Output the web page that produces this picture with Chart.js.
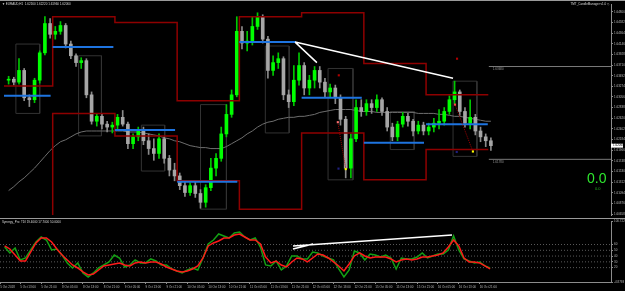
<!DOCTYPE html>
<html>
<head>
<meta charset="utf-8">
<script src="https://cdn.jsdelivr.net/npm/chart.js@4.4.0/dist/chart.umd.min.js"></script>
<style>
  html, body { margin: 0; padding: 0; background: #000; }
  body { width: 625px; height: 291px; position: relative; overflow: hidden; }
  canvas { position: absolute; left: 0; display: block; }
  #main { top: 0; }
  #sub { top: 219px; }
</style>
</head>
<body>
<canvas id="main" width="625" height="219"></canvas>
<canvas id="sub" width="625" height="72"></canvas>
<script>
// EURAUD bars, 5 Oct - 16 Oct 2018 (x = bar number)
const openP = [
  1.6340, 1.6342, 1.6336, 1.6360, 1.6304, 1.6300, 1.6340, 1.6396, 1.6456, 1.6434,
  1.6440, 1.6452, 1.6414, 1.6390, 1.6376, 1.6380, 1.6310, 1.6256, 1.6266, 1.6250,
  1.6244, 1.6248, 1.6264, 1.6250, 1.6210, 1.6224, 1.6236, 1.6216, 1.6200, 1.6190,
  1.6220, 1.6180, 1.6156, 1.6144, 1.6124, 1.6110, 1.6124, 1.6108, 1.6090, 1.6120,
  1.6160, 1.6180, 1.6230, 1.6270, 1.6310, 1.6440, 1.6416, 1.6420, 1.6450, 1.6470,
  1.6424, 1.6360, 1.6376, 1.6384, 1.6310, 1.6296, 1.6340, 1.6370, 1.6324, 1.6340,
  1.6360, 1.6336, 1.6316, 1.6324, 1.6304, 1.6260, 1.6160, 1.6220, 1.6284, 1.6276,
  1.6292, 1.6284, 1.6300, 1.6276, 1.6244, 1.6224, 1.6250, 1.6266, 1.6256, 1.6236,
  1.6248, 1.6236, 1.6244, 1.6252, 1.6256, 1.6276, 1.6300, 1.6316, 1.6276, 1.6252,
  1.6264, 1.6236, 1.6224, 1.6216
];
const highP = [
  1.6348, 1.6346, 1.6384, 1.6364, 1.6310, 1.6344, 1.6400, 1.6470, 1.6466, 1.6450,
  1.6460, 1.6456, 1.6420, 1.6394, 1.6386, 1.6384, 1.6316, 1.6272, 1.6270, 1.6256,
  1.6254, 1.6270, 1.6278, 1.6254, 1.6230, 1.6244, 1.6244, 1.6230, 1.6220, 1.6230,
  1.6224, 1.6186, 1.6170, 1.6150, 1.6134, 1.6130, 1.6132, 1.6116, 1.6126, 1.6180,
  1.6190, 1.6244, 1.6290, 1.6320, 1.6470, 1.6450, 1.6440, 1.6470, 1.6478, 1.6474,
  1.6430, 1.6390, 1.6396, 1.6388, 1.6320, 1.6370, 1.6396, 1.6376, 1.6350, 1.6368,
  1.6368, 1.6344, 1.6332, 1.6330, 1.6310, 1.6266, 1.6230, 1.6300, 1.6300, 1.6300,
  1.6300, 1.6310, 1.6304, 1.6284, 1.6252, 1.6256, 1.6274, 1.6272, 1.6260, 1.6256,
  1.6254, 1.6252, 1.6262, 1.6280, 1.6284, 1.6308, 1.6338, 1.6320, 1.6284, 1.6300,
  1.6270, 1.6244, 1.6230, 1.6222
];
const lowP = [
  1.6332, 1.6330, 1.6332, 1.6298, 1.6286, 1.6294, 1.6334, 1.6392, 1.6426, 1.6424,
  1.6434, 1.6406, 1.6384, 1.6368, 1.6364, 1.6304, 1.6250, 1.6246, 1.6240, 1.6234,
  1.6232, 1.6240, 1.6246, 1.6200, 1.6200, 1.6216, 1.6208, 1.6188, 1.6176, 1.6180,
  1.6170, 1.6144, 1.6134, 1.6116, 1.6102, 1.6104, 1.6100, 1.6078, 1.6080, 1.6114,
  1.6144, 1.6174, 1.6224, 1.6264, 1.6306, 1.6404, 1.6400, 1.6412, 1.6444, 1.6416,
  1.6344, 1.6350, 1.6364, 1.6300, 1.6284, 1.6288, 1.6330, 1.6310, 1.6310, 1.6324,
  1.6324, 1.6306, 1.6304, 1.6292, 1.6248, 1.6140, 1.6140, 1.6214, 1.6266, 1.6268,
  1.6272, 1.6276, 1.6268, 1.6236, 1.6216, 1.6216, 1.6244, 1.6246, 1.6226, 1.6230,
  1.6228, 1.6228, 1.6234, 1.6240, 1.6248, 1.6270, 1.6292, 1.6268, 1.6244, 1.6240,
  1.6228, 1.6214, 1.6204, 1.6196
];
const closeP = [
  1.6342, 1.6336, 1.6360, 1.6304, 1.6300, 1.6340, 1.6396, 1.6456, 1.6434, 1.6440,
  1.6452, 1.6414, 1.6390, 1.6376, 1.6380, 1.6310, 1.6256, 1.6266, 1.6250, 1.6244,
  1.6248, 1.6264, 1.6250, 1.6210, 1.6224, 1.6236, 1.6216, 1.6200, 1.6190, 1.6220,
  1.6180, 1.6156, 1.6144, 1.6124, 1.6110, 1.6124, 1.6108, 1.6090, 1.6120, 1.6160,
  1.6180, 1.6230, 1.6270, 1.6310, 1.6440, 1.6416, 1.6420, 1.6450, 1.6470, 1.6424,
  1.6360, 1.6376, 1.6384, 1.6310, 1.6296, 1.6340, 1.6370, 1.6324, 1.6340, 1.6360,
  1.6336, 1.6316, 1.6324, 1.6304, 1.6260, 1.6160, 1.6220, 1.6284, 1.6276, 1.6292,
  1.6284, 1.6300, 1.6276, 1.6244, 1.6224, 1.6250, 1.6266, 1.6256, 1.6236, 1.6248,
  1.6236, 1.6244, 1.6252, 1.6256, 1.6276, 1.6300, 1.6316, 1.6276, 1.6252, 1.6264,
  1.6236, 1.6224, 1.6216, 1.6206
];
const maLine = [
  1.6114, 1.6122, 1.6132, 1.6140, 1.6150, 1.6160, 1.6172, 1.6184, 1.6196, 1.6206,
  1.6214, 1.6218, 1.6224, 1.6230, 1.6234, 1.6236, 1.6236, 1.6236, 1.6236, 1.6236,
  1.6236, 1.6236, 1.6236, 1.6234, 1.6234, 1.6234, 1.6232, 1.6230, 1.6228, 1.6226,
  1.6222, 1.6220, 1.6216, 1.6214, 1.6210, 1.6206, 1.6204, 1.6202, 1.6202, 1.6200,
  1.6200, 1.6200, 1.6204, 1.6210, 1.6216, 1.6222, 1.6230, 1.6236, 1.6244, 1.6250,
  1.6254, 1.6256, 1.6260, 1.6262, 1.6264, 1.6264, 1.6266, 1.6266, 1.6268, 1.6270,
  1.6274, 1.6276, 1.6278, 1.6280, 1.6280, 1.6280, 1.6280, 1.6278, 1.6276, 1.6276,
  1.6276, 1.6274, 1.6274, 1.6274, 1.6274, 1.6274, 1.6274, 1.6274, 1.6274, 1.6272,
  1.6272, 1.6272, 1.6272, 1.6270, 1.6270, 1.6268, 1.6266, 1.6266, 1.6264, 1.6262,
  1.6260, 1.6258, 1.6256, 1.6256
];

// daily levels
const dayStart = [-0.9, 8.5, 20.5, 32.5, 44.5, 56.5, 68.5, 80.5, 92.5];
const dayHigh = [1.6328, 1.6470, 1.6458, 1.6298, 1.6470, 1.6478, 1.6374, 1.6310];
const dayLow = [1.6000, 1.6272, 1.6226, 1.6134, 1.6076, 1.6232, 1.6136, 1.6198];
const dayOpen = [1.6308, 1.6408, 1.6238, 1.6132, 1.6418, 1.6304, 1.6212, 1.6250];
const dayOpenEnd = [8.1, 20.2, 32.1, 44.1, 55.4, 68.1, 80.1, 92.4];

// session boxes
const boxFrom = [1.4, 13.5, 25.6, 37.0, 49.5, 61.6, 73.6, 85.7];
const boxTo = [6.0, 17.9, 30.1, 42.0, 54.1, 66.4, 78.2, 90.3];
const boxHigh = [1.6414, 1.6390, 1.6248, 1.6290, 1.6410, 1.6364, 1.6276, 1.6338];
const boxLow = [1.6272, 1.6226, 1.6154, 1.6076, 1.6232, 1.6136, 1.6198, 1.6184];

// trend lines on price
const trendFrom = [55.24, 55.24];
const trendTo = [85.70, 59.45];
const trendFromP = [1.6418, 1.6418];
const trendToP = [1.6344, 1.6376];

// signal marks
const markX = [63.48, 65.01, 63.67, 63.61, 86.08, 89.53, 86.47, 86.41];
const markP = [1.6254, 1.6158, 1.6350, 1.6159, 1.6290, 1.6194, 1.6384, 1.6193];

// horizontal price lines at the right
const hLineFrom = 92.6;
const hLineP = [1.6368, 1.6178];

const priceTicks = [
  1.64800, 1.64582, 1.64364, 1.64146, 1.63928, 1.63710, 1.63492, 1.63274, 1.63056, 1.62838,
  1.62620, 1.62402, 1.62184, 1.61966, 1.61748, 1.61530, 1.61312, 1.61094, 1.60876, 1.60658
];

// TDI
const tdiGreen = [
  55.7, 45.4, 54.0, 33.3, 36.7, 50.6, 64.4, 73.0, 67.8, 50.6,
  52.3, 41.9, 28.1, 19.4, 28.1, 10.8, 3.8, 10.8, 19.4, 24.6,
  29.8, 41.9, 36.7, 21.1, 24.6, 33.3, 28.1, 28.1, 35.0, 31.5,
  24.6, 24.6, 17.7, 14.2, 10.8, 15.9, 19.4, 15.9, 36.7, 60.9,
  67.8, 78.2, 74.8, 71.3, 80.0, 81.7, 73.0, 67.8, 71.3, 55.7,
  24.6, 22.9, 31.5, 15.9, 22.9, 40.2, 40.2, 35.0, 35.0, 47.1,
  45.4, 40.2, 36.7, 33.3, 17.7, 3.8, 15.9, 48.8, 45.4, 33.3,
  43.6, 41.9, 38.4, 41.9, 36.7, 17.7, 36.7, 35.0, 35.0, 38.4,
  45.4, 36.7, 40.2, 43.6, 43.6, 50.6, 74.8, 50.6, 35.0, 31.5,
  28.1, 29.8, 22.9, 19.4
];
const tdiRed = [
  57.5, 52.3, 41.9, 31.5, 31.5, 47.1, 62.7, 71.3, 71.3, 64.4,
  52.3, 41.9, 33.3, 24.6, 19.4, 12.5, 7.3, 9.0, 15.9, 22.9,
  24.6, 26.3, 28.1, 24.6, 22.9, 28.1, 29.8, 28.1, 29.8, 29.8,
  26.3, 21.1, 17.7, 14.2, 12.5, 14.2, 17.7, 22.9, 36.7, 57.5,
  62.7, 66.1, 71.3, 71.3, 76.5, 78.2, 73.0, 67.8, 67.8, 60.9,
  38.4, 28.1, 31.5, 24.6, 21.1, 29.8, 36.7, 35.0, 29.8, 36.7,
  43.6, 41.9, 36.7, 29.8, 22.9, 14.2, 26.3, 40.2, 45.4, 40.2,
  36.7, 38.4, 38.4, 38.4, 35.0, 29.8, 33.3, 35.0, 33.3, 35.0,
  38.4, 38.4, 40.2, 41.9, 45.4, 55.7, 67.8, 57.5, 36.7, 29.8,
  29.8, 28.1, 22.9, 17.7
];
const tdiLevels = [60, 50, 40, 30, 20];
const tdiTicks = [100.7226, 60, 50, 40, 30, 20, -4.8793];
const tdiTrendFromV = [57.5, 52.3];
const tdiTrendToV = [76.5, 60.9];
const tdiTrendTo = [85.70, 59.07];

const timeTicks = [-0.85, 3, 7, 11, 15, 19, 23, 27, 31, 35, 39, 43, 47, 51, 55, 59, 63, 67, 71, 75, 79, 83, 87, 91];
const timeLabels = [
  '5 Oct 2018', '5 Oct 13:00', '5 Oct 21:00', '8 Oct 05:00', '8 Oct 13:00', '8 Oct 21:00',
  '9 Oct 05:00', '9 Oct 13:00', '9 Oct 21:00', '10 Oct 05:00', '10 Oct 13:00', '10 Oct 21:00',
  '11 Oct 05:00', '11 Oct 13:00', '11 Oct 21:00', '12 Oct 05:00', '12 Oct 13:00', '12 Oct 21:00',
  '15 Oct 05:00', '15 Oct 13:00', '15 Oct 21:00', '16 Oct 05:00', '16 Oct 13:00', '16 Oct 21:00'
];

const xMin = -0.89, xMax = 116.16;
const FONT = 'Liberation Sans';
const AXIS = '#8c8c8c';
const TXT = '#b8b8b8';

const upCol = '#00ff00', dnCol = '#a6a6a6';
const isUp = closeP.map((c, i) => c > openP[i]);

function withBreaks(list) {
  let pts = [];
  list.forEach(seg => { pts = pts.concat(seg); pts.push({x: seg[seg.length - 1].x, y: null}); });
  return pts;
}

const stepData = levels => {
  let pts = levels.map((v, k) => ({x: dayStart[k], y: v}));
  pts.push({x: dayStart[levels.length], y: levels[levels.length - 1]});
  return pts;
};

const lineDs = (data, color, width, order, extra) => Object.assign({
  type: 'line', data, borderColor: color, borderWidth: width, pointRadius: 0,
  tension: 0, order, spanGaps: false
}, extra || {});

const mainDeco = {
  id: 'mainDeco',
  afterDraw(chart) {
    const {ctx, chartArea, scales: {x, y}} = chart;
    ctx.save();
    ctx.fillStyle = '#9a9a9a';
    ctx.fillRect(0, 0, 625, 1);
    ctx.fillRect(0, 218, 625, 1);

    const n = closeP.length - 1;
    ctx.font = `3px "${FONT}"`;
    ctx.textBaseline = 'middle';
    ctx.fillStyle = '#d8d8d8';
    ctx.fillText('\u25BC EURAUD,H1  ' + [openP[n], highP[n], lowP[n], closeP[n]].map(v => v.toFixed(5)).join(' '), 2, 4);
    ctx.textAlign = 'right';
    ctx.fillText('TMT_CandleManager v1.0 \u25C7', chartArea.right - 2, 4);
    ctx.textAlign = 'left';

    ctx.fillStyle = '#9a9a9a';
    hLineP.forEach(p => ctx.fillText(p.toFixed(5), x.getPixelForValue(hLineFrom) + 4, y.getPixelForValue(p) + 3));

    const cy = y.getPixelForValue(closeP[n]);
    ctx.fillStyle = '#ffffff';
    ctx.fillRect(chartArea.right, cy - 2, 12, 4);
    ctx.fillStyle = '#000000';
    ctx.fillText(closeP[n].toFixed(5), chartArea.right + 2, cy);

    ctx.textBaseline = 'alphabetic';
    ctx.font = `14px "${FONT}"`;
    ctx.fillStyle = '#2ee62e';
    ctx.fillText('0.0', 587, 183);
    ctx.font = `4px "${FONT}"`;
    ctx.fillStyle = '#22a822';
    ctx.fillText('0.0', 595, 190);
    ctx.restore();
  }
};

const subDeco = {
  id: 'subDeco',
  afterDraw(chart) {
    const {ctx} = chart;
    const n = tdiGreen.length - 1;
    ctx.save();
    ctx.font = `3px "${FONT}"`;
    ctx.textBaseline = 'middle';
    ctx.fillStyle = '#d8d8d8';
    ctx.fillText('Synergy_Pro_TDI ' + tdiGreen[n].toFixed(4) + ' ' + tdiRed[n].toFixed(4) + ' 50.0000', 2, 3);
    ctx.restore();
  }
};

const fixedRight = s => { s.width = 14; s.paddingTop = 0; s.paddingBottom = 0; };

new Chart(document.getElementById('main'), {
  type: 'bar',
  data: {
    datasets: [
      {
        type: 'bar', order: 6, grouped: false, barThickness: 1, minBarLength: 1,
        data: closeP.map((c, i) => ({x: i, y: [lowP[i], highP[i]]})),
        backgroundColor: isUp.map(u => u ? '#00c800' : '#8a8a8a')
      },
      {
        type: 'bar', order: 5, grouped: false, barThickness: 3, minBarLength: 1,
        data: closeP.map((c, i) => ({x: i, y: [openP[i], c]})),
        backgroundColor: isUp.map(u => u ? upCol : dnCol)
      },
      lineDs(maLine.map((v, i) => ({x: i, y: v})), '#6e6e6e', 1, 9),
      lineDs(withBreaks(boxFrom.map((f, k) => [
        {x: f, y: boxHigh[k]}, {x: boxTo[k], y: boxHigh[k]}, {x: boxTo[k], y: boxLow[k]},
        {x: f, y: boxLow[k]}, {x: f, y: boxHigh[k]}
      ])), '#333333', 1, 10),
      lineDs(withBreaks(hLineP.map(p => [{x: hLineFrom, y: p}, {x: xMax, y: p}])), '#7a7a7a', 1, 9),
      lineDs(stepData(dayHigh), '#8e0000', 1.5, 4, {stepped: true}),
      lineDs(stepData(dayLow), '#8e0000', 1.5, 4, {stepped: true}),
      lineDs(withBreaks(dayOpen.map((p, k) => [{x: dayStart[k], y: p}, {x: dayOpenEnd[k], y: p}])), '#1e74e0', 2, 3),
      lineDs(withBreaks([[{x: markX[0], y: markP[0]}, {x: markX[1], y: markP[1]}],
                         [{x: markX[4], y: markP[4]}, {x: markX[5], y: markP[5]}]]), '#9a0000', 1, 2, {borderDash: [1, 1]}),
      lineDs(withBreaks(trendFrom.map((f, k) => [{x: f, y: trendFromP[k]}, {x: trendTo[k], y: trendToP[k]}])), '#ffffff', 1.5, 1),
      {
        type: 'line', order: 0, showLine: false,
        data: markX.map((m, k) => ({x: m, y: markP[k]})),
        pointStyle: 'rect', pointRadius: 1.5, borderWidth: 0,
        pointBackgroundColor: ['#ff7070', '#ffff00', '#b00000', '#202080', '#ff4040', '#ffff00', '#b00000', '#202080']
      }
    ]
  },
  options: {
    responsive: false,
    animation: false,
    devicePixelRatio: 1,
    layout: {padding: {top: 2, bottom: 1, left: 0, right: 0}},
    plugins: {legend: {display: false}, tooltip: {enabled: false}},
    scales: {
      x: {type: 'linear', min: xMin, max: xMax, offset: false, display: false, grid: {offset: false}},
      y: {
        position: 'right', min: 1.6064, max: 1.6496, beginAtZero: false,
        afterBuildTicks: s => { s.ticks = priceTicks.map(v => ({value: v})); },
        afterFit: fixedRight,
        ticks: {color: TXT, font: {size: 3, family: FONT}, padding: 1, autoSkip: false, callback: v => v.toFixed(5)},
        grid: {drawOnChartArea: false, tickLength: 2, color: AXIS},
        border: {color: AXIS}
      }
    }
  },
  plugins: [mainDeco]
});

new Chart(document.getElementById('sub'), {
  type: 'line',
  data: {
    datasets: [
      lineDs(withBreaks(tdiLevels.map(l => [{x: xMin, y: l}, {x: xMax, y: l}])), '#5a5a5a', 1, 5, {borderDash: [1, 2]}),
      lineDs(tdiGreen.map((v, i) => ({x: i, y: v})), '#14a014', 1.5, 3),
      lineDs(tdiRed.map((v, i) => ({x: i, y: v})), '#ff1a1a', 1.5, 2),
      lineDs(withBreaks(trendFrom.map((f, k) => [{x: f, y: tdiTrendFromV[k]}, {x: tdiTrendTo[k], y: tdiTrendToV[k]}])), '#ffffff', 1.5, 1)
    ]
  },
  options: {
    responsive: false,
    animation: false,
    devicePixelRatio: 1,
    layout: {padding: {top: 2, bottom: 0, left: 0, right: 0}},
    plugins: {legend: {display: false}, tooltip: {enabled: false}},
    scales: {
      x: {
        type: 'linear', min: xMin, max: xMax, offset: false,
        afterBuildTicks: s => { s.ticks = timeTicks.map(v => ({value: v})); },
        afterFit: s => { s.height = 9; s.paddingLeft = 0; s.paddingRight = 0; },
        ticks: {color: TXT, font: {size: 3, family: FONT}, padding: 1, align: 'start', maxRotation: 0, autoSkip: false,
                callback: (v, i) => timeLabels[i]},
        grid: {drawOnChartArea: false, tickLength: 2, color: AXIS},
        border: {color: AXIS}
      },
      y: {
        position: 'right', min: -4.8793, max: 100.7226,
        afterBuildTicks: s => { s.ticks = tdiTicks.map(v => ({value: v})); },
        afterFit: fixedRight,
        ticks: {color: TXT, font: {size: 3, family: FONT}, padding: 1, autoSkip: false,
                callback: v => Number.isInteger(v) ? String(v) : v.toFixed(4)},
        grid: {drawOnChartArea: false, tickLength: 2, color: AXIS},
        border: {color: AXIS}
      }
    }
  },
  plugins: [subDeco]
});
</script>
</body>
</html>
